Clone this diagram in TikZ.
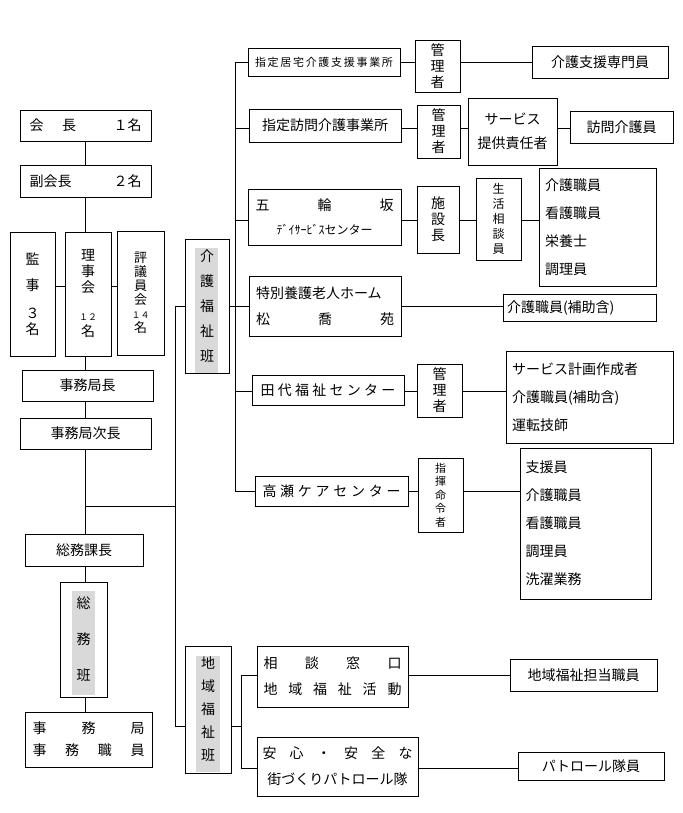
\documentclass[tikz,border=0pt]{standalone}
\usepackage{fontspec}
\setmainfont{Noto Sans CJK JP}
\newcommand\bx[6]{\node[box,minimum width={(#4-#2)*1pt},minimum height={(#5-#3)*1pt}] (#1) at ({(#2+#4)/2},{(#3+#5)/2}) {#6};}
\newcommand\shd[4]{\fill[gray!30] (#1,#2) rectangle (#3,#4);}
\newcommand\sw[2]{\makebox[#1pt]{#2}}
\newcommand\hf{\hfill}
\newcommand\vs[1]{\parbox{24pt}{\centering #1}}
\begin{document}
\begin{tikzpicture}[x=1pt,y=-1pt,line width=0.8pt,
  box/.style={draw,inner sep=0pt,align=left,font=\fontsize{14}{16}\selectfont}]
\useasboundingbox (0,0) rectangle (682,813);
% shading
\shd{195}{248}{218}{373}
\shd{72}{591}{95}{695}
\shd{196}{656}{220}{772}
% left column
\bx{kaicho}{20}{110}{151}{141}{\sw{112}{会\hf 長\hf\hf １名}}
\bx{fuku}{20}{165}{151}{197}{\sw{112}{副会長\hf\hf ２名}}
\bx{kanji}{10}{232}{55}{356}{\vs{監\\[10pt]事\\[12pt]３\\名}}
\bx{riji}{65}{232}{111}{356}{\vs{理\\事\\会\\[12pt]{\small １２}\\名}}
\bx{hyogi}{117}{231}{164}{355}{\vs{\fontsize{13}{14}\selectfont 評\\議\\員\\会\\{\small １４}\\名}}
\bx{jimukyokucho}{22}{370}{153}{401}{事務局長}
\bx{jijicho}{20}{418}{151}{449}{事務局次長}
\bx{somukacho}{25}{534}{143}{566}{総務課長}
\bx{somuhan}{60}{582}{107}{697}{\vs{総\\[20pt]務\\[20pt]班}}
\bx{jimushoku}{25}{712}{152}{767}{\sw{112}{事\hf 務\hf 局}\\[6pt]\sw{112}{事\hf 務\hf 職\hf 員}}
% groups
\bx{kaigo}{185}{239}{229}{373}{\vs{介\\[9pt]護\\[9pt]福\\[9pt]祉\\[9pt]班}}
\bx{chiiki}{185}{646}{231}{773}{\vs{地\\[7pt]域\\[7pt]福\\[7pt]祉\\[7pt]班}}
% kaigo branches
\bx{b1}{248}{48}{400}{76}{\sw{138}{\fontsize{11}{12}\selectfont 指\hf 定\hf 居\hf 宅\hf 介\hf 護\hf 支\hf 援\hf 事\hf 業\hf 所}}
\bx{b2}{249}{109}{401}{142}{指定訪問介護事業所}
\bx{b3}{248}{189}{401}{245}{\sw{138}{五\hf 輪\hf 坂}\\[8pt]\sw{138}{\fontsize{12}{13}\selectfont ﾃﾞｲｻｰﾋﾞｽセンター}}
\bx{b4}{249}{276}{401}{336}{\sw{138}{特別養護老人ホーム\hfill}\\[10pt]\sw{138}{松\hf 喬\hf 苑}}
\bx{b5}{252}{375}{404}{405}{\sw{135}{田\hf 代\hf 福\hf 祉\hf セ\hf ン\hf タ\hf ー}}
\bx{b6}{255}{476}{408}{506}{\sw{138}{高\hf 瀬\hf ケ\hf ア\hf セ\hf ン\hf タ\hf ー}}
\bx{m1}{415}{40}{460}{92}{\vs{管\\理\\者}}
\bx{r1}{532}{46}{668}{78}{介護支援専門員}
\bx{m2}{417}{105}{460}{158}{\vs{管\\理\\者}}
\bx{s2}{468}{98}{557}{165}{\parbox{85pt}{\centering サービス\\[8pt]提供責任者}}
\bx{r2}{570}{111}{673}{143}{訪問介護員}
\bx{m3}{417}{186}{459}{253}{\vs{施\\設\\長}}
\bx{s3}{476}{178}{521}{260}{\vs{\fontsize{12}{15}\selectfont 生\\活\\相\\談\\員}}
\bx{r3}{539}{168}{656}{286}{\parbox{105pt}{介護職員\\[12pt]看護職員\\[12pt]栄養士\\[12pt]調理員}}
\bx{r4}{503}{294}{656}{321}{\parbox{145pt}{介護職員(補助含)}}
\bx{m5}{417}{364}{462}{417}{\vs{管\\理\\者}}
\bx{r5}{506}{351}{673}{443}{\parbox{155pt}{サービス計画作成者\\[12pt]介護職員(補助含)\\[12pt]運転技師}}
\bx{m6}{418}{458}{463}{532}{\vs{\fontsize{11}{13.5}\selectfont 指\\揮\\命\\令\\者}}
\bx{r6}{520}{448}{651}{599}{\parbox{120pt}{支援員\\[12pt]介護職員\\[12pt]看護職員\\[12pt]調理員\\[12pt]洗濯業務}}
% chiiki branches
\bx{c1}{257}{646}{408}{707}{\sw{138}{相\hf 談\hf 窓\hf 口}\\[10pt]\sw{138}{地\hf 域\hf 福\hf 祉\hf 活\hf 動}}
\bx{c1r}{510}{659}{657}{691}{地域福祉担当職員}
\bx{c2}{257}{737}{418}{796}{\sw{150}{安\hf 心\hf ・\hf 安\hf 全\hf な}\\[10pt]\sw{150}{街づくりパトロール隊}}
\bx{c2r}{518}{752}{664}{780}{パトロール隊員}
% coordinates
\coordinate (jL) at (175,306);
\coordinate (jB) at (175,726);
\coordinate (jM) at (175,506);
\coordinate (cM) at (85,506);
\coordinate (kR) at (235,306);
\coordinate (kT) at (235,62);
\coordinate (kB) at (235,491);
\coordinate (dR) at (241,726);
\coordinate (dT) at (241,675);
\coordinate (dB) at (241,768);
% left connectors
\draw (kaicho.south) -- (kaicho.south |- fuku.north);
\draw (fuku.south) -- (fuku.south |- riji.north);
\draw (riji.south -| fuku.south) -- (fuku.south |- jimukyokucho.north);
\draw (kanji.east |- 0,286) -- (riji.west |- 0,286);
\draw (riji.east |- 0,286) -- (hyogi.west |- 0,286);
\draw (jimukyokucho.south -| fuku.south) -- (fuku.south |- jijicho.north);
\draw (jijicho.south -| fuku.south) -- (fuku.south |- somukacho.north);
\draw (somukacho.south -| fuku.south) -- (fuku.south |- somuhan.north);
\draw (somuhan.south -| fuku.south) -- (fuku.south |- jimushoku.north);
\draw (cM) -- (jM);
\draw (jL) -- (jB);
\draw (jL) -- (kaigo.west |- jL);
\draw (jB) -- (chiiki.west |- jB);
% kaigo tree
\draw (kaigo.east |- kR) -- (kR);
\draw (kT) -- (kB);
\draw (kT) -- (b1.west |- kT);
\draw (b2.west |- 0,128) -- (235,128);
\draw (b3.west |- 0,220) -- (235,220);
\draw (b4.west |- 0,306) -- (kR);
\draw (b5.west |- 0,391) -- (235,391);
\draw (b6.west |- kB) -- (kB);
\draw (b1.east |- 0,62) -- (m1.west |- 0,62);
\draw (m1.east |- 0,62) -- (r1.west |- 0,62);
\draw (b2.east |- 0,128) -- (m2.west |- 0,128);
\draw (m2.east |- 0,128) -- (s2.west |- 0,128);
\draw (s2.east |- 0,128) -- (r2.west |- 0,128);
\draw (b3.east |- 0,220) -- (m3.west |- 0,220);
\draw (m3.east |- 0,220) -- (s3.west |- 0,220);
\draw (s3.east |- 0,220) -- (r3.west |- 0,220);
\draw (b4.east |- 0,306) -- (r4.west |- 0,306);
\draw (b5.east |- 0,391) -- (m5.west |- 0,391);
\draw (m5.east |- 0,391) -- (r5.west |- 0,391);
\draw (b6.east |- 0,491) -- (m6.west |- 0,491);
\draw (m6.east |- 0,491) -- (r6.west |- 0,491);
% chiiki tree
\draw (chiiki.east |- dR) -- (dR);
\draw (dT) -- (dB);
\draw (dT) -- (c1.west |- dT);
\draw (dB) -- (c2.west |- dB);
\draw (c1.east |- dT) -- (c1r.west |- dT);
\draw (c2.east |- dB) -- (c2r.west |- dB);
\end{tikzpicture}
\end{document}
